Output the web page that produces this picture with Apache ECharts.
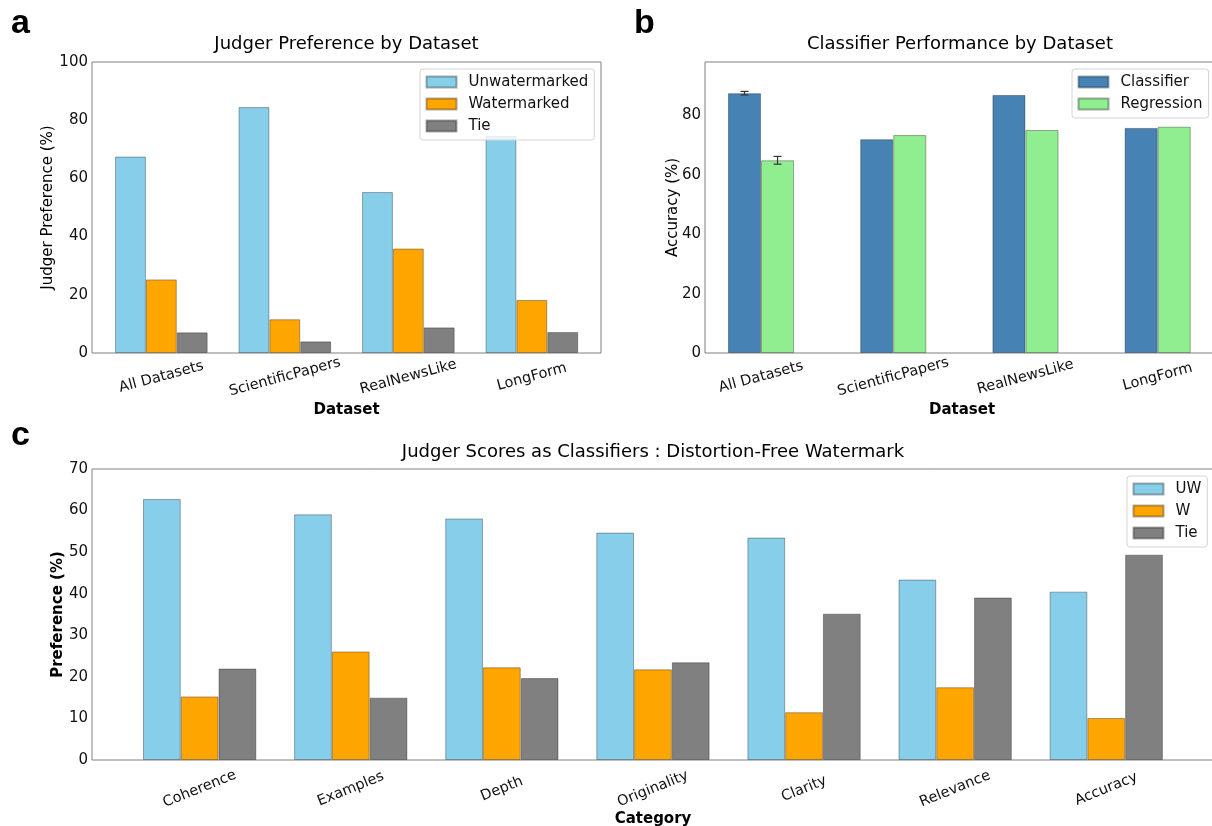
<!DOCTYPE html>
<html>
<head>
<meta charset="utf-8">
<script src="https://cdn.jsdelivr.net/npm/echarts@6/dist/echarts.min.js"></script>
<style>
html,body{margin:0;padding:0;background:#fff;}
#chart{width:1212px;height:826px;}
</style>
</head>
<body>
<div id="chart"></div>
<script>
// ---------- Data ----------
const datasets = ['All Datasets', 'ScientificPapers', 'RealNewsLike', 'LongForm'];
const judgerUnwatermarked = [67.5, 84.5, 55.3, 74.6];
const judgerWatermarked = [25.3, 11.6, 35.9, 18.2];
const judgerTie = [7.1, 4.0, 8.8, 7.2];

const classifierAcc = [87.5, 72.0, 86.9, 75.8];
const classifierErr = [0.6, 0, 0, 0];
const regressionAcc = [64.9, 73.4, 75.1, 76.2];
const regressionErr = [1.3, 0, 0, 0];

const categories = ['Coherence', 'Examples', 'Depth', 'Originality', 'Clarity', 'Relevance', 'Accuracy'];
const scoreUW = [62.8, 59.1, 58.1, 54.7, 53.5, 43.4, 40.5];
const scoreW = [15.3, 26.1, 22.3, 21.8, 11.5, 17.5, 10.1];
const scoreTie = [22.0, 15.0, 19.7, 23.5, 35.2, 39.1, 49.4];

// ---------- Style ----------
const FONT = 'DejaVu Sans';
const SPINE = '#808080';
const EDGE = 'rgba(0,0,0,0.32)';
const C_UW = '#87CEEB', C_W = '#FFA500', C_TIE = '#808080';
const C_CLS = '#4682B4', C_REG = '#90EE90';

const chart = echarts.init(document.getElementById('chart'), null, {renderer: 'canvas'});

function frameGrid(l, t, w, h) {
  return {left: l, top: t, width: w, height: h, show: true, borderColor: SPINE, borderWidth: 1,
          backgroundColor: 'transparent', containLabel: false, outerBoundsMode: 'none'};
}
function dataGrid(l, t, w, h) {
  return {left: l, top: t, width: w, height: h, show: false, containLabel: false, outerBoundsMode: 'none'};
}
function hiddenX(gi, data) {
  return {type: 'category', gridIndex: gi, data: data, show: false};
}
function labelX(gi, data, rot, margin) {
  return {type: 'category', gridIndex: gi, data: data,
    axisLine: {show: false}, axisTick: {show: false}, splitLine: {show: false},
    axisLabel: {interval: 0, rotate: rot, align: 'center', verticalAlign: 'middle', margin: margin,
                fontSize: 14.5, fontFamily: FONT, color: '#111'}};
}
function frameY(gi, max, interval, showMax) {
  return {type: 'value', gridIndex: gi, min: 0, max: max, interval: interval,
    axisLine: {show: false}, axisTick: {show: false}, splitLine: {show: false},
    axisLabel: {fontSize: 15, fontFamily: FONT, color: '#111', margin: 4, showMaxLabel: showMax,
      formatter: function (v) { return (v % interval === 0) ? String(v) : ''; }}};
}
function hiddenY(gi, max) {
  return {type: 'value', gridIndex: gi, min: 0, max: max, show: false, splitLine: {show: false}};
}
function bar(name, data, color, xi) {
  return {type: 'bar', name: name, data: data, xAxisIndex: xi, yAxisIndex: xi,
    barWidth: '25%', barGap: '0%', itemStyle: {color: color, borderColor: EDGE, borderWidth: 1},
    emphasis: {disabled: true}, animation: false};
}
function legend(names, left, top) {
  return {data: names, orient: 'vertical', left: left, top: top, icon: 'rect',
    itemWidth: 30, itemHeight: 11, itemGap: 6, padding: [5, 6, 6, 5.5],
    backgroundColor: 'rgba(255,255,255,0.8)', borderColor: '#d4d4d4', borderWidth: 1, borderRadius: 3,
    selectedMode: false, z: 10,
    textStyle: {fontSize: 15, fontFamily: FONT, color: '#111', lineHeight: 16, padding: [0, 0, 0, 7]}};
}
function txt(text, x, y, size, weight, rot, align, family) {
  return {type: 'text', x: x, y: y, rotation: rot || 0, z: 20,
    style: {text: text, fill: '#000', fontSize: size, fontWeight: weight || 'normal',
      fontFamily: family || FONT, align: align || 'center', verticalAlign: 'middle'}};
}

// error bar data from arrays
const errorData = [];
classifierAcc.forEach(function (v, i) { if (classifierErr[i] > 0) errorData.push([i, v, classifierErr[i], -0.125]); });
regressionAcc.forEach(function (v, i) { if (regressionErr[i] > 0) errorData.push([i, v, regressionErr[i], 0.125]); });

const option = {
  animation: false,
  backgroundColor: '#fff',
  grid: [
    frameGrid(92, 62, 509, 291),
    dataGrid(99.6, 62, 494, 291),
    frameGrid(705, 62, 510, 291),
    dataGrid(694.9, 62, 528.9, 291),
    frameGrid(92, 469, 1122, 291),
    dataGrid(124.1, 469, 1057.7, 291)
  ],
  xAxis: [
    hiddenX(0, datasets),
    labelX(1, datasets, 15, 24),
    hiddenX(2, datasets),
    labelX(3, datasets, 15, 24),
    hiddenX(4, categories),
    labelX(5, categories, 22, 29)
  ],
  yAxis: [
    frameY(0, 100, 20, true),
    hiddenY(1, 100),
    frameY(2, 98, 20, false),
    hiddenY(3, 98),
    frameY(4, 70, 10, true),
    hiddenY(5, 70)
  ],
  legend: [
    legend(['Unwatermarked', 'Watermarked', 'Tie'], 420, 69),
    legend(['Classifier', 'Regression'], 1072, 69),
    legend(['UW', 'W', 'Tie'], 1127, 476)
  ],
  series: [
    bar('Unwatermarked', judgerUnwatermarked, C_UW, 1),
    bar('Watermarked', judgerWatermarked, C_W, 1),
    bar('Tie', judgerTie, C_TIE, 1),
    bar('Classifier', classifierAcc, C_CLS, 3),
    bar('Regression', regressionAcc, C_REG, 3),
    {
      type: 'custom', name: 'err', xAxisIndex: 3, yAxisIndex: 3, data: errorData, z: 5,
      renderItem: function (params, api) {
        const idx = api.value(0), val = api.value(1), err = api.value(2), off = api.value(3);
        const band = api.size([1, 0])[0];
        const top = api.coord([idx, val + err]);
        const bot = api.coord([idx, val - err]);
        const x = top[0] + off * band;
        const hw = 4;
        const st = {stroke: '#333', lineWidth: 1.2};
        return {type: 'group', children: [
          {type: 'line', shape: {x1: x, y1: top[1], x2: x, y2: bot[1]}, style: st},
          {type: 'line', shape: {x1: x - hw, y1: top[1], x2: x + hw, y2: top[1]}, style: st},
          {type: 'line', shape: {x1: x - hw, y1: bot[1], x2: x + hw, y2: bot[1]}, style: st}
        ]};
      }
    },
    bar('UW', scoreUW, C_UW, 5),
    bar('W', scoreW, C_W, 5),
    bar('Tie', scoreTie, C_TIE, 5)
  ],
  graphic: [
    txt('a', 11, 24, 34, 'bold', 0, 'left', 'Liberation Sans'),
    txt('b', 634, 24, 34, 'bold', 0, 'left', 'Liberation Sans'),
    txt('c', 11, 436, 34, 'bold', 0, 'left', 'Liberation Sans'),
    txt('Judger Preference by Dataset', 346.5, 44.8, 18),
    txt('Classifier Performance by Dataset', 960, 44.8, 18),
    txt('Judger Scores as Classifiers : Distortion-Free Watermark', 653, 452.5, 18),
    txt('Judger Preference (%)', 48.5, 207.5, 15, 'normal', Math.PI / 2),
    txt('Accuracy (%)', 673, 207.5, 15, 'normal', Math.PI / 2),
    txt('Preference (%)', 57.8, 614.5, 15, 'bold', Math.PI / 2),
    txt('Dataset', 346.5, 409.8, 15, 'bold'),
    txt('Dataset', 962, 409.8, 15, 'bold'),
    txt('Category', 653, 819, 15, 'bold')
  ]
};
chart.setOption(option);
</script>
</body>
</html>
